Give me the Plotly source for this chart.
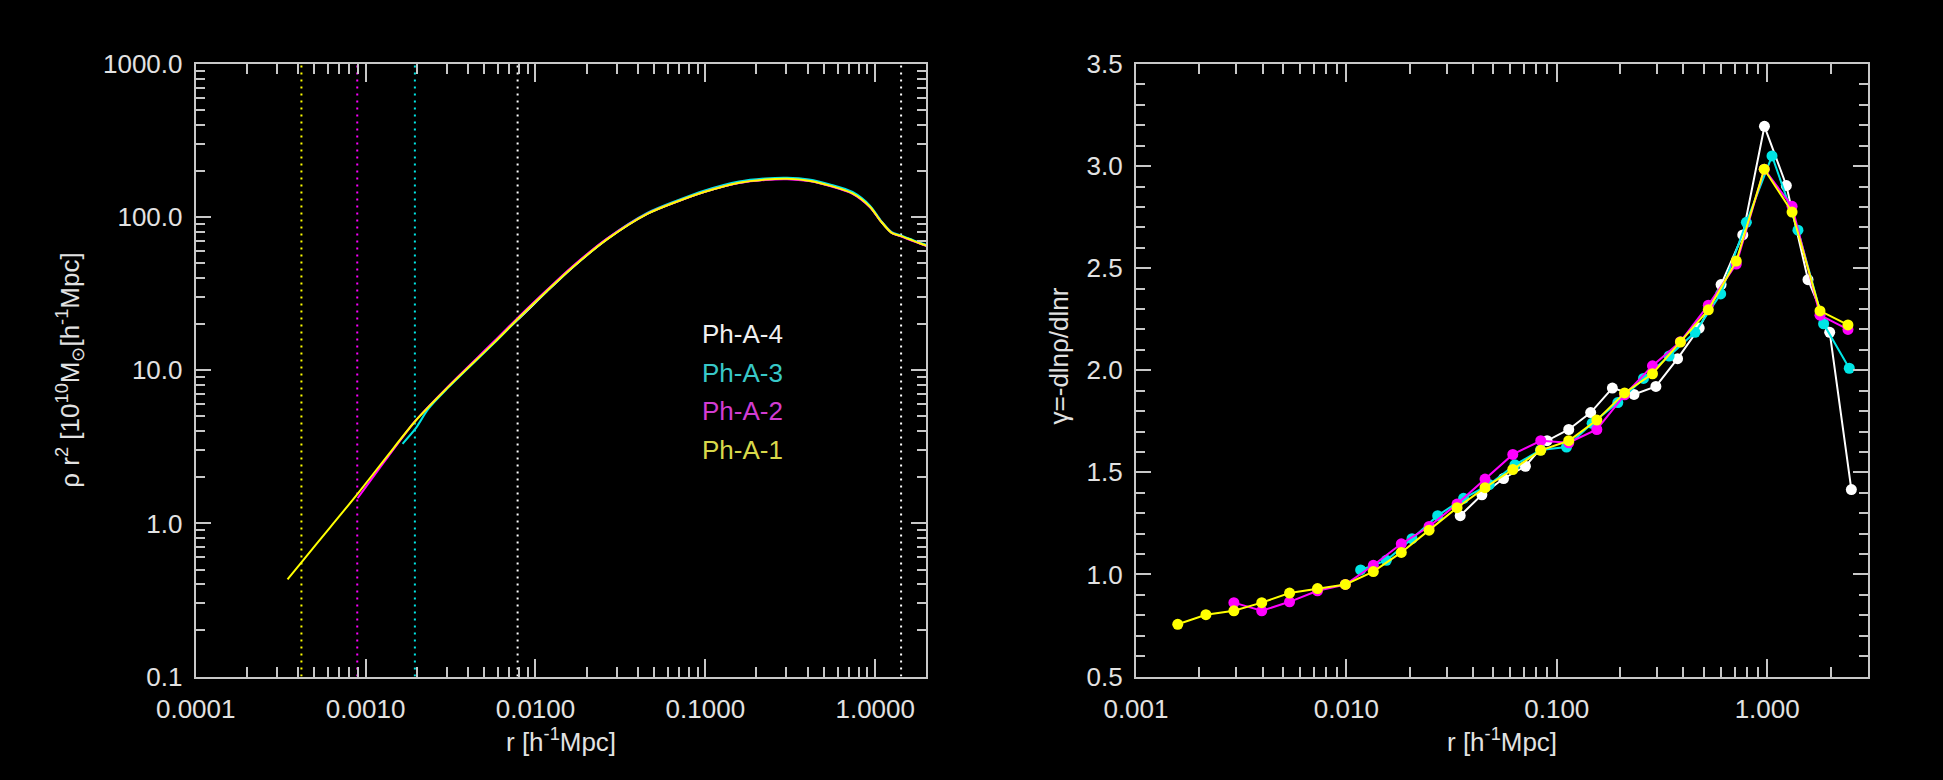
import plotly.graph_objects as go

# ---------------- left panel: rho r^2 profiles ----------------
r_a1 = [3.47e-4, 4.18e-4, 6.22e-4, 8.97e-4, 1.32e-3, 1.97e-3, 3.06e-3, 5.69e-3, 8.18e-3,
        0.0117, 0.0166, 0.0267, 0.0455, 0.0689, 0.0982, 0.158, 0.225, 0.303, 0.407,
        0.547, 0.735, 0.931, 1.08, 1.25, 1.41, 1.68, 1.99, 2.3]
rho_a1 = [0.431, 0.555, 0.95, 1.56, 2.69, 4.68, 7.76, 15.1, 22.6,
          33.1, 47.3, 72.4, 105, 127, 146, 168, 176, 178, 173,
          160, 143, 117, 94, 79, 75.5, 70, 65.3, 61]

r_a2 = [8.97e-4, 1.32e-3, 1.97e-3, 3.06e-3, 5.69e-3, 8.18e-3, 0.0117, 0.0166, 0.0267,
        0.0455, 0.0689, 0.0982, 0.158, 0.225, 0.303, 0.407, 0.547, 0.735, 0.931,
        1.08, 1.25, 1.41, 1.68, 1.99, 2.3]
rho_a2 = [1.46, 2.62, 4.70, 7.85, 15.4, 23.0, 33.6, 48.0, 73.3,
          105.5, 127, 146, 167, 175, 177, 172, 159, 142, 116,
          94, 79, 75, 69.5, 65, 61]

r_a3 = [1.65e-3, 1.97e-3, 2.34e-3, 3.06e-3, 5.69e-3, 8.18e-3, 0.0117, 0.0166, 0.0267,
        0.0455, 0.0689, 0.0982, 0.158, 0.225, 0.303, 0.407, 0.547, 0.735, 0.931,
        1.08, 1.25, 1.41, 1.68, 1.99, 2.3]
rho_a3 = [3.31, 4.17, 5.6, 7.7, 15.0, 22.5, 33.0, 47.4, 73.0,
          106.5, 129, 149, 171, 179, 181, 176, 163, 146, 119,
          95, 80, 76, 70.5, 66, 62]

r_a4 = [6.5e-3, 8.18e-3, 0.0117, 0.0166, 0.0267, 0.0455, 0.0689, 0.0982, 0.158,
        0.225, 0.303, 0.407, 0.547, 0.735, 0.931, 1.08, 1.25, 1.41, 1.68, 1.99, 2.3]
rho_a4 = [17.6, 22.3, 32.8, 47.1, 72.3, 105, 127, 146, 168,
          176, 178, 173, 160, 143, 117, 94, 79, 75.5, 70, 65.3, 61]

# characteristic radii marked with dotted verticals
r_mark = [4.19e-4, 8.93e-4, 1.95e-3, 7.85e-3, 1.42]
mark_series = ["Ph-A-1", "Ph-A-2", "Ph-A-3", "Ph-A-4", "Ph-A-4"]

# ---------------- right panel: logarithmic slope ----------------
g_r_a1 = [0.00158, 0.00215, 0.00292, 0.00396, 0.00537, 0.00729, 0.00989, 0.01343, 0.01824,
          0.02472, 0.03357, 0.0456, 0.0618, 0.0839, 0.114, 0.155, 0.210, 0.285, 0.387,
          0.525, 0.713, 0.968, 1.313, 1.782, 2.42]
gamma_a1 = [0.756, 0.803, 0.822, 0.862, 0.909, 0.931, 0.951, 1.014, 1.108,
            1.217, 1.327, 1.425, 1.514, 1.608, 1.655, 1.756, 1.889, 1.983, 2.138,
            2.296, 2.535, 2.985, 2.775, 2.291, 2.222]

g_r_a2 = [0.00292, 0.00396, 0.00537, 0.00729, 0.00989, 0.01343, 0.01824,
          0.02472, 0.03357, 0.0456, 0.0618, 0.0839, 0.114, 0.155, 0.210, 0.285, 0.387,
          0.525, 0.713, 0.968, 1.313, 1.782, 2.42]
gamma_a2 = [0.862, 0.822, 0.866, 0.920, 0.951, 1.045, 1.150,
            1.235, 1.345, 1.467, 1.588, 1.655, 1.645, 1.710, 1.880, 2.022, 2.140,
            2.319, 2.520, 2.985, 2.803, 2.270, 2.200]

g_r_a3 = [0.01169, 0.01549, 0.02051, 0.02716, 0.03606, 0.04775, 0.06324, 0.08375, 0.1112,
          0.1472, 0.1950, 0.2582, 0.3420, 0.4539, 0.6012, 0.7962, 1.054, 1.400, 1.854, 2.455]
gamma_a3 = [1.022, 1.069, 1.175, 1.288, 1.373, 1.440, 1.537, 1.610, 1.624,
            1.740, 1.842, 1.960, 2.070, 2.186, 2.374, 2.725, 3.050, 2.686, 2.228, 2.010]

g_r_a4 = [0.03475, 0.04406, 0.05585, 0.07096, 0.08995, 0.1140, 0.1449, 0.1837, 0.2328,
          0.2958, 0.3750, 0.4753, 0.6039, 0.7656, 0.9705, 1.233, 1.563, 1.982, 2.512]
gamma_a4 = [1.288, 1.390, 1.470, 1.530, 1.655, 1.710, 1.793, 1.913, 1.882,
            1.921, 2.057, 2.207, 2.420, 2.663, 3.195, 2.905, 2.444, 2.186, 1.416]

# axis ticks
lx_ticks = [1e-4, 1e-3, 1e-2, 1e-1, 1.0]
lx_text = ["0.0001", "0.0010", "0.0100", "0.1000", "1.0000"]
ly_ticks = [0.1, 1.0, 10.0, 100.0, 1000.0]
ly_text = ["0.1", "1.0", "10.0", "100.0", "1000.0"]
rx_ticks = [1e-3, 1e-2, 1e-1, 1.0]
rx_text = ["0.001", "0.010", "0.100", "1.000"]
ry_ticks = [0.5, 1.0, 1.5, 2.0, 2.5, 3.0, 3.5]
ry_text = ["0.5", "1.0", "1.5", "2.0", "2.5", "3.0", "3.5"]

colors = {"Ph-A-1": "#ffff00", "Ph-A-2": "#ff00ff", "Ph-A-3": "#00e6e6", "Ph-A-4": "#ffffff"}
label_colors = {"Ph-A-1": "#d8d84a", "Ph-A-2": "#d23cd2", "Ph-A-3": "#38c8c8", "Ph-A-4": "#f0f0f0"}

W, H = 1943, 780
FONT = "Liberation Sans"
AX_COL = "#c8c8c8"
TXT_COL = "#e2e2e2"

# plot boxes in pixels
L_X0, L_X1 = 159, 905
R_X0, R_X1 = 1119, 1866
Y_TOP, Y_BOT = 51, 688

fig = go.Figure()

# dotted marker radii
for rv, s in zip(r_mark, mark_series):
    fig.add_trace(go.Scatter(x=[rv, rv], y=[0.1, 1000.0], mode="lines",
                             line=dict(color=colors[s], width=2, dash="2px,5px"),
                             xaxis="x", yaxis="y", showlegend=False, hoverinfo="skip"))

# profiles (lowest resolution drawn first)
for rr, vv, s in [(r_a4, rho_a4, "Ph-A-4"), (r_a3, rho_a3, "Ph-A-3"),
                  (r_a2, rho_a2, "Ph-A-2"), (r_a1, rho_a1, "Ph-A-1")]:
    fig.add_trace(go.Scatter(x=rr, y=vv, mode="lines",
                             line=dict(color=colors[s], width=2, shape="spline", smoothing=0.8),
                             xaxis="x", yaxis="y", name=s, showlegend=False))

# slopes
for rr, vv, s in [(g_r_a4, gamma_a4, "Ph-A-4"), (g_r_a3, gamma_a3, "Ph-A-3"),
                  (g_r_a2, gamma_a2, "Ph-A-2"), (g_r_a1, gamma_a1, "Ph-A-1")]:
    fig.add_trace(go.Scatter(x=rr, y=vv, mode="lines+markers",
                             line=dict(color=colors[s], width=2),
                             marker=dict(color=colors[s], size=11, line=dict(width=0)),
                             xaxis="x2", yaxis="y2", name=s, showlegend=False))


def px_x(p):
    return p / W


def px_y(p):
    return 1 - p / H


common = dict(showline=True, linecolor=AX_COL, linewidth=2, mirror="ticks",
              ticks="inside", tickcolor=AX_COL, tickwidth=1.5,
              showgrid=False, zeroline=False,
              tickfont=dict(family=FONT, size=26, color=TXT_COL))

fig.update_layout(
    width=W, height=H,
    margin=dict(l=0, r=0, t=0, b=0),
    paper_bgcolor="black", plot_bgcolor="black",
    showlegend=False,
    xaxis=dict(type="log", range=[-4, 0.30103], domain=[px_x(L_X0), px_x(L_X1)],
               tickvals=lx_ticks, ticktext=lx_text, ticklen=18, ticklabelstandoff=8,
               minor=dict(ticks="inside", ticklen=10, dtick="D1", tickcolor=AX_COL, showgrid=False),
               anchor="y", **common),
    yaxis=dict(type="log", range=[-1, 3], domain=[px_y(Y_BOT), px_y(Y_TOP)],
               tickvals=ly_ticks, ticktext=ly_text, ticklen=15, ticklabelstandoff=6,
               minor=dict(ticks="inside", ticklen=9, dtick="D1", tickcolor=AX_COL, showgrid=False),
               anchor="x", **common),
    xaxis2=dict(type="log", range=[-3, 0.47712], domain=[px_x(R_X0), px_x(R_X1)],
                tickvals=rx_ticks, ticktext=rx_text, ticklen=18, ticklabelstandoff=8,
                minor=dict(ticks="inside", ticklen=10, dtick="D1", tickcolor=AX_COL, showgrid=False),
                anchor="y2", **common),
    yaxis2=dict(range=[0.5, 3.5], domain=[px_y(Y_BOT), px_y(Y_TOP)],
                tickvals=ry_ticks, ticktext=ry_text, ticklen=15, ticklabelstandoff=6,
                minor=dict(ticks="inside", ticklen=9, dtick=0.1, tickcolor=AX_COL, showgrid=False),
                anchor="x2", **common),
)

annots = []
# legend labels
for i, s in enumerate(["Ph-A-4", "Ph-A-3", "Ph-A-2", "Ph-A-1"]):
    annots.append(dict(text=s, x=px_x(674), y=px_y(332 + 40 * i), xref="paper", yref="paper",
                       xanchor="left", yanchor="middle", showarrow=False,
                       font=dict(family=FONT, size=26, color=label_colors[s])))

title_font = dict(family=FONT, size=26, color=TXT_COL)
annots.append(dict(text="r [h<sup>-1</sup>Mpc]", x=px_x((L_X0 + L_X1) / 2), y=px_y(754),
                   xref="paper", yref="paper", xanchor="center", yanchor="middle",
                   showarrow=False, font=title_font))
annots.append(dict(text="r [h<sup>-1</sup>Mpc]", x=px_x((R_X0 + R_X1) / 2), y=px_y(754),
                   xref="paper", yref="paper", xanchor="center", yanchor="middle",
                   showarrow=False, font=title_font))
annots.append(dict(text="ρ r<sup>2</sup> [10<sup>10</sup>M<sub>⊙</sub>[h<sup>-1</sup>Mpc]",
                   x=px_x(31), y=px_y((Y_TOP + Y_BOT) / 2), textangle=-90,
                   xref="paper", yref="paper", xanchor="center", yanchor="middle",
                   showarrow=False, font=title_font))
annots.append(dict(text="γ=-dlnρ/dlnr",
                   x=px_x(1040), y=px_y((Y_TOP + Y_BOT) / 2 - 15), textangle=-90,
                   xref="paper", yref="paper", xanchor="center", yanchor="middle",
                   showarrow=False, font=title_font))
fig.update_layout(annotations=annots)

fig.write_html("out.html")
